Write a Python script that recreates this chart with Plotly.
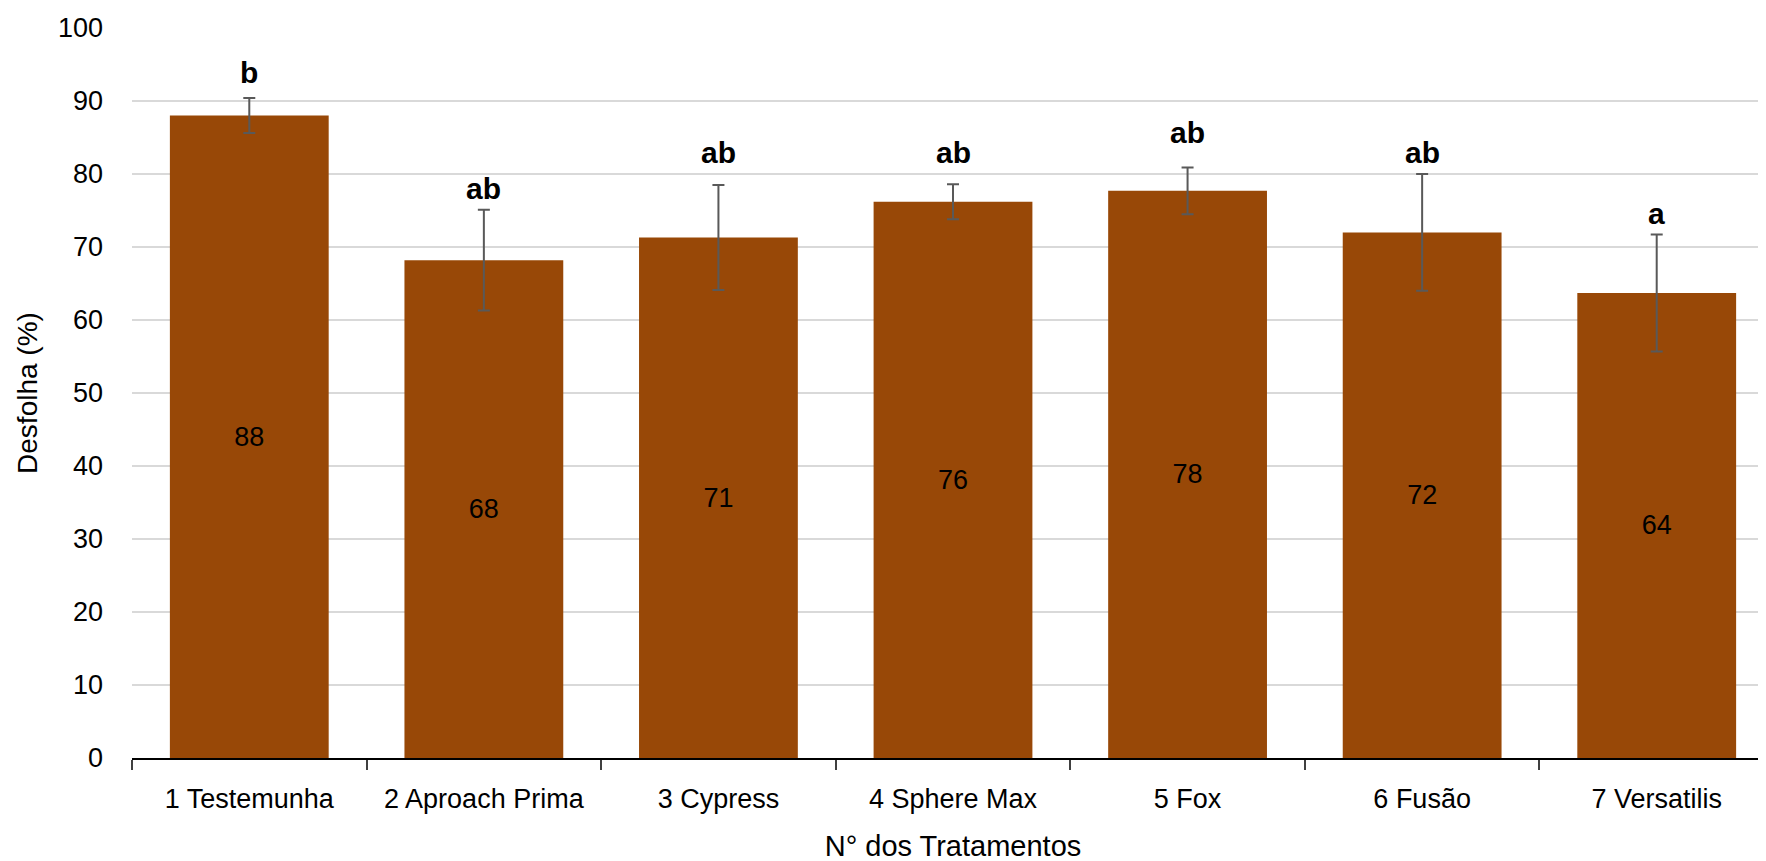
import plotly.graph_objects as go

categories = ["1 Testemunha", "2 Aproach Prima", "3 Cypress", "4 Sphere Max", "5 Fox", "6 Fusão", "7 Versatilis"]
means = [88.0, 68.2, 71.3, 76.2, 77.7, 72.0, 63.7]
errors = [2.4, 6.9, 7.2, 2.4, 3.2, 8.0, 8.0]
bar_labels = ["88", "68", "71", "76", "78", "72", "64"]
letters = ["b", "ab", "ab", "ab", "ab", "ab", "a"]
letter_y = [93.9, 78.0, 83.0, 83.0, 85.7, 83.0, 74.6]

FONT = "Liberation Sans, Arial, sans-serif"

fig = go.Figure()
fig.add_trace(go.Bar(
    x=categories, y=means,
    marker=dict(color="#984807", line=dict(width=0)),
    text=bar_labels, textposition="inside", insidetextanchor="middle",
    textangle=0,
    textfont=dict(family=FONT, size=27, color="black"),
    error_y=dict(type="data", array=errors, visible=True, color="#595959", thickness=2, width=6),
    cliponaxis=False,
))

for c, l, yy in zip(categories, letters, letter_y):
    fig.add_annotation(x=c, y=yy, text=f"<b>{l}</b>", showarrow=False,
                       xanchor="center", yanchor="middle",
                       font=dict(family=FONT, size=30, color="black"))

fig.update_layout(
    width=1766, height=861,
    margin=dict(l=124, r=0, t=20, b=111, autoexpand=False),
    paper_bgcolor="white", plot_bgcolor="white",
    bargap=0.323,
    showlegend=False,
    font=dict(family=FONT, color="black"),
    uniformtext=dict(mode=False),
)
fig.update_xaxes(
    type="category", automargin=False,
    showline=True, linecolor="black", linewidth=2,
    ticks="outside", tickson="boundaries", ticklen=10, tickcolor="#404040", tickwidth=1.5,
    tickangle=0,
    tickfont=dict(family=FONT, size=27, color="black"),
    ticklabelstandoff=16,
    showgrid=False,
    title=dict(text="N° dos Tratamentos", font=dict(family=FONT, size=29, color="black"), standoff=22),
)
fig.update_yaxes(
    range=[0, 100], dtick=10, automargin=False,
    showgrid=True, gridcolor="#d9d9d9", gridwidth=1.5,
    showline=False, zeroline=False,
    tickfont=dict(family=FONT, size=27, color="black"),
    ticklabelstandoff=28,
    title=dict(text="Desfolha (%)", font=dict(family=FONT, size=28, color="black"), standoff=12),
)

fig.write_html("out.html")
